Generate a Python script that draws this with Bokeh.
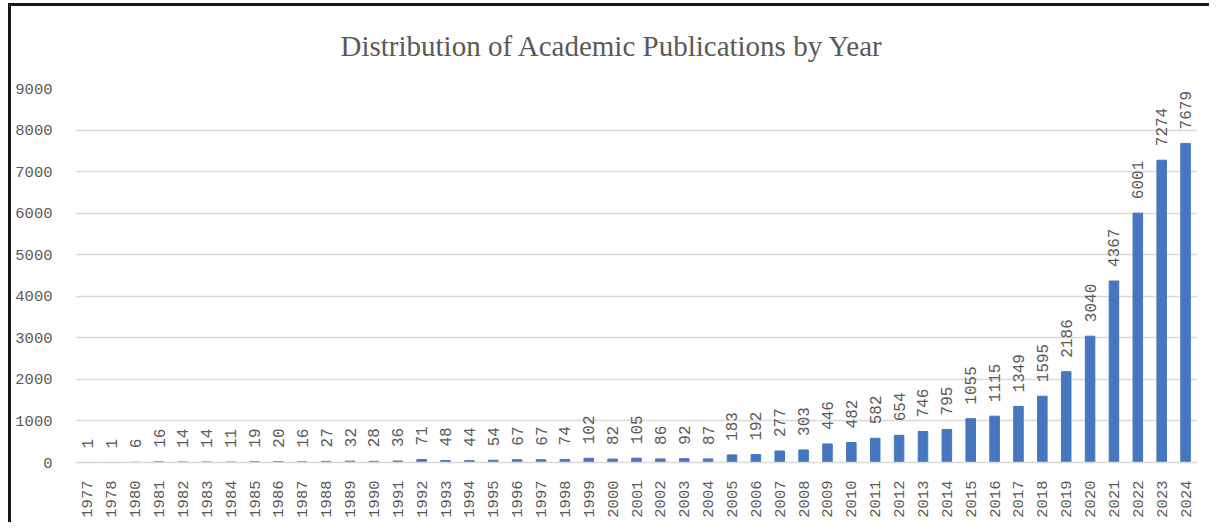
import math
from bokeh.plotting import figure
from bokeh.models import ColumnDataSource, FixedTicker, Range1d, FactorRange
from bokeh.core.properties import value
from bokeh.embed import file_html
from bokeh.resources import INLINE

years = ["1977", "1978", "1980", "1981", "1982", "1983", "1984", "1985", "1986", "1987",
         "1988", "1989", "1990", "1991", "1992", "1993", "1994", "1995", "1996", "1997",
         "1998", "1999", "2000", "2001", "2002", "2003", "2004", "2005", "2006", "2007",
         "2008", "2009", "2010", "2011", "2012", "2013", "2014", "2015", "2016", "2017",
         "2018", "2019", "2020", "2021", "2022", "2023", "2024"]
counts = [1, 1, 6, 16, 14, 14, 11, 19, 20, 16,
          27, 32, 28, 36, 71, 48, 44, 54, 67, 67,
          74, 102, 82, 105, 86, 92, 87, 183, 192, 277,
          303, 446, 482, 582, 654, 746, 795, 1055, 1115, 1349,
          1595, 2186, 3040, 4367, 6001, 7274, 7679]
y_ticks = [0, 1000, 2000, 3000, 4000, 5000, 6000, 7000, 8000, 9000]

TEXT = "#595959"
MONO = "Liberation Mono"

src = ColumnDataSource(dict(year=years, count=counts, label=[str(c) for c in counts]))

p = figure(width=1209, height=522, x_range=FactorRange(*years), y_range=Range1d(0, 9000),
           output_backend="svg", toolbar_location=None,
           min_border_left=75, min_border_right=12, min_border_top=88, min_border_bottom=60)

p.title.text = "Distribution of Academic Publications by Year"
p.title.align = "left"
p.title.offset = 265
p.title.standoff = 54
p.title.text_font = "Liberation Serif"
p.title.text_font_size = "29px"
p.title.text_font_style = "normal"
p.title.text_color = TEXT

p.vbar(x="year", top="count", width=0.4, source=src, color="#4677BE")
p.text(x="year", y="count", text="label", source=src, angle=math.pi / 2,
       text_align="left", text_baseline="middle", y_offset=-14,
       text_font=value(MONO), text_font_size="16px", text_color=TEXT)

p.border_fill_color = None
p.outline_line_color = None
p.xgrid.grid_line_color = None
p.ygrid.grid_line_color = "#d9d9d9"
p.ygrid.grid_line_width = 1.5

p.yaxis.ticker = FixedTicker(ticks=y_ticks)
p.yaxis.axis_line_color = None
p.yaxis.major_tick_line_color = None
p.yaxis.minor_tick_line_color = None
p.yaxis.major_label_text_font = MONO
p.yaxis.major_label_text_font_size = "15.5px"
p.yaxis.major_label_text_color = TEXT
p.yaxis.major_label_standoff = 17

p.xaxis.axis_line_color = "#d9d9d9"
p.xaxis.axis_line_width = 1.5
p.xaxis.major_tick_line_color = None
p.xaxis.minor_tick_line_color = None
p.xaxis.major_label_orientation = math.pi / 2
p.xaxis.major_label_text_font = MONO
p.xaxis.major_label_text_font_size = "15.5px"
p.xaxis.major_label_text_color = TEXT
p.xaxis.major_label_standoff = 12

p.styles = {
    "background-image": "linear-gradient(#161616, #161616), linear-gradient(#161616, #161616)",
    "background-size": "3px 100%, 100% 3px",
    "background-position": "8px 3px, 8px 3px",
    "background-repeat": "no-repeat",
}

open("out.html", "w").write(file_html(p, INLINE))
